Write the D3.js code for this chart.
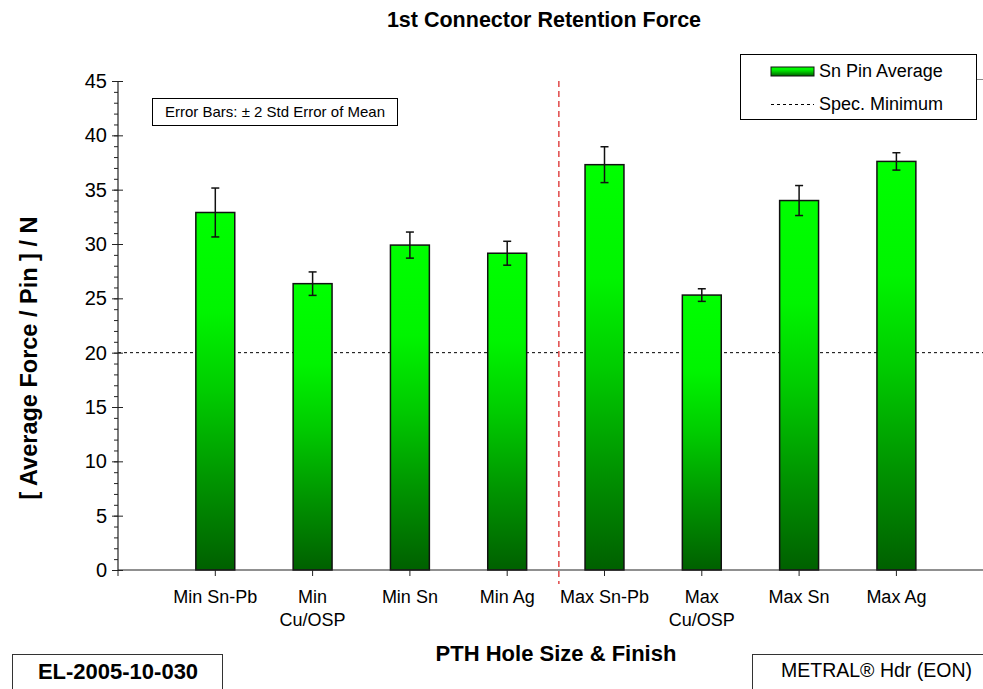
<!DOCTYPE html>
<html>
<head>
<meta charset="utf-8">
<script src="https://cdn.jsdelivr.net/npm/d3@7/dist/d3.min.js"></script>
<style>
  html, body { margin: 0; padding: 0; background: #fff; }
  svg { display: block; font-family: "Liberation Sans", Arial, sans-serif; }
</style>
</head>
<body>
<svg id="chart" width="983" height="689"></svg>
<script>
// ---- data ----
const categories = ["Min Sn-Pb", "Min\nCu/OSP", "Min Sn", "Min Ag", "Max Sn-Pb", "Max\nCu/OSP", "Max Sn", "Max Ag"];
const averages   = [32.9, 26.35, 29.9, 29.15, 37.3, 25.3, 34.0, 37.6];
const errors     = [2.25, 1.08, 1.2, 1.1, 1.65, 0.58, 1.38, 0.8];
const specMinimum = 20;
const yTicks = [0, 5, 10, 15, 20, 25, 30, 35, 40, 45];
const chartTitle = "1st Connector Retention Force";
const xTitle = "PTH Hole Size & Finish";
const yTitle = "[ Average Force / Pin ] / N";
const legendLabels = ["Sn Pin Average", "Spec. Minimum"];
const noteText = "Error Bars: \u00B1 2 Std Error of Mean";
const docId = "EL-2005-10-030";
const productText = "METRAL\u00AE Hdr (EON)";

// ---- layout ----
const svg = d3.select("#chart");
const axisLeft = 118, plotTop = 81, plotBottom = 570, plotRight = 983;
const step = 97.3;

const x = d3.scaleBand()
  .domain(categories)
  .range([axisLeft + step * 0.5, axisLeft + step * 8.5])
  .paddingInner(0.6)
  .paddingOuter(0.3);
const y = d3.scaleLinear().domain([0, 45]).range([plotBottom, plotTop]);

// gradient
const defs = svg.append("defs");
const grad = defs.append("linearGradient").attr("id", "barGrad")
  .attr("x1", 0).attr("y1", 0).attr("x2", 0).attr("y2", 1);
[[0, "#00ff00"], [0.28, "#00f400"], [0.5, "#00cc00"], [0.75, "#009400"], [1, "#006000"]]
  .forEach(([o, c]) => grad.append("stop").attr("offset", o).attr("stop-color", c));

// title
svg.append("text").attr("x", 544).attr("y", 27).attr("text-anchor", "middle")
  .attr("font-size", 21.5).attr("font-weight", "bold").attr("fill", "#000").text(chartTitle);

// spec minimum line
svg.append("line")
  .attr("x1", axisLeft).attr("x2", plotRight)
  .attr("y1", y(specMinimum)).attr("y2", y(specMinimum))
  .attr("stroke", "#000").attr("stroke-width", 1).attr("stroke-dasharray", "3,3");

// bars
const data = categories.map((c, i) => ({ c, v: averages[i], e: errors[i] }));
svg.append("g").selectAll("rect").data(data).join("rect")
  .attr("x", d => x(d.c)).attr("width", x.bandwidth())
  .attr("y", d => y(d.v)).attr("height", d => y(0) - y(d.v))
  .attr("fill", "url(#barGrad)").attr("stroke", "#111").attr("stroke-width", 1.5);

// error bars
const eb = svg.append("g").attr("stroke", "#111").attr("stroke-width", 1.5);
data.forEach(d => {
  const cx = x(d.c) + x.bandwidth() / 2;
  eb.append("line").attr("x1", cx).attr("x2", cx).attr("y1", y(d.v + d.e)).attr("y2", y(d.v - d.e));
  eb.append("line").attr("x1", cx - 4).attr("x2", cx + 4).attr("y1", y(d.v + d.e)).attr("y2", y(d.v + d.e));
  eb.append("line").attr("x1", cx - 4).attr("x2", cx + 4).attr("y1", y(d.v - d.e)).attr("y2", y(d.v - d.e));
});

// red separator
const sepX = x(categories[3]) + x.bandwidth() / 2 + x.step() / 2 + 3;
svg.append("line").attr("x1", sepX).attr("x2", sepX).attr("y1", plotTop).attr("y2", plotBottom + 14)
  .attr("stroke", "#e04848").attr("stroke-width", 1.5).attr("stroke-dasharray", "6,4");

// y axis
const yAxisG = svg.append("g").attr("transform", `translate(${axisLeft},0)`);
yAxisG.call(d3.axisLeft(y).tickValues(d3.range(0, 46, 1)).tickSize(4).tickFormat(""))
  .call(g => g.select(".domain").remove())
  .call(g => g.selectAll("line").attr("stroke", "#222"));
yAxisG.call(g => g.append("g").call(d3.axisLeft(y).tickValues(yTicks).tickSize(6).tickPadding(5))
  .call(a => a.select(".domain").remove())
  .call(a => a.selectAll("line").attr("stroke", "#222").attr("x2", 5).attr("x1", -6))
  .call(a => a.selectAll("text").attr("font-size", 20).attr("fill", "#000")
    .attr("font-family", "Liberation Sans, Arial, sans-serif")));
svg.append("line").attr("x1", axisLeft).attr("x2", axisLeft).attr("y1", plotTop).attr("y2", plotBottom)
  .attr("stroke", "#222").attr("stroke-width", 1.2);

// x axis
svg.append("line").attr("x1", axisLeft).attr("x2", plotRight).attr("y1", plotBottom).attr("y2", plotBottom)
  .attr("stroke", "#222").attr("stroke-width", 1.2);
const xAxisG = svg.append("g").attr("transform", `translate(0,${plotBottom})`);
xAxisG.call(d3.axisBottom(x).tickSize(6).tickFormat(""))
  .call(g => g.select(".domain").remove())
  .call(g => g.selectAll("line").attr("stroke", "#222"));
svg.append("line").attr("x1", axisLeft).attr("x2", axisLeft).attr("y1", plotBottom).attr("y2", plotBottom + 6)
  .attr("stroke", "#222");
const xl = svg.append("g").attr("font-size", 18).attr("fill", "#000").attr("text-anchor", "middle");
categories.forEach(c => {
  const cx = x(c) + x.bandwidth() / 2;
  const t = xl.append("text").attr("x", cx).attr("y", 603);
  c.split("\n").forEach((line, i) => {
    t.append("tspan").attr("x", cx).attr("dy", i === 0 ? 0 : 23).text(line);
  });
});

// axis titles
svg.append("text").attr("x", 556).attr("y", 661).attr("text-anchor", "middle")
  .attr("font-size", 22).attr("font-weight", "bold").text(xTitle);
svg.append("text").attr("transform", "translate(37,358) rotate(-90)").attr("text-anchor", "middle")
  .attr("font-size", 23.5).attr("font-weight", "bold").text(yTitle);

// note box
svg.append("rect").attr("x", 152.5).attr("y", 98.5).attr("width", 245).attr("height", 27)
  .attr("fill", "#fff").attr("stroke", "#000").attr("stroke-width", 1);
svg.append("text").attr("x", 275).attr("y", 117).attr("text-anchor", "middle")
  .attr("font-size", 15).text(noteText);

// legend
const lg = svg.append("g");
lg.append("line").attr("x1", 977).attr("x2", 983).attr("y1", 79.5).attr("y2", 79.5).attr("stroke", "#888");
lg.append("rect").attr("x", 740.5).attr("y", 54.5).attr("width", 236).attr("height", 65)
  .attr("fill", "#fff").attr("stroke", "#000").attr("stroke-width", 1);
lg.append("rect").attr("x", 771).attr("y", 67).attr("width", 43).attr("height", 9)
  .attr("fill", "url(#barGrad)").attr("stroke", "#111").attr("stroke-width", 1);
lg.append("text").attr("x", 819).attr("y", 77).attr("font-size", 18).text(legendLabels[0]);
lg.append("line").attr("x1", 771).attr("x2", 814).attr("y1", 104.5).attr("y2", 104.5)
  .attr("stroke", "#000").attr("stroke-dasharray", "3,3");
lg.append("text").attr("x", 819).attr("y", 110).attr("font-size", 18).text(legendLabels[1]);

// bottom boxes
svg.append("rect").attr("x", 12.5).attr("y", 654.5).attr("width", 210).attr("height", 40)
  .attr("fill", "#fff").attr("stroke", "#333").attr("stroke-width", 1);
svg.append("text").attr("x", 118).attr("y", 679).attr("text-anchor", "middle")
  .attr("font-size", 22).attr("font-weight", "bold").text(docId);
svg.append("rect").attr("x", 752.5).attr("y", 654.5).attr("width", 240).attr("height", 40)
  .attr("fill", "#fff").attr("stroke", "#333").attr("stroke-width", 1);
svg.append("text").attr("x", 781).attr("y", 677).attr("font-size", 19.5).text(productText);
</script>
</body>
</html>
